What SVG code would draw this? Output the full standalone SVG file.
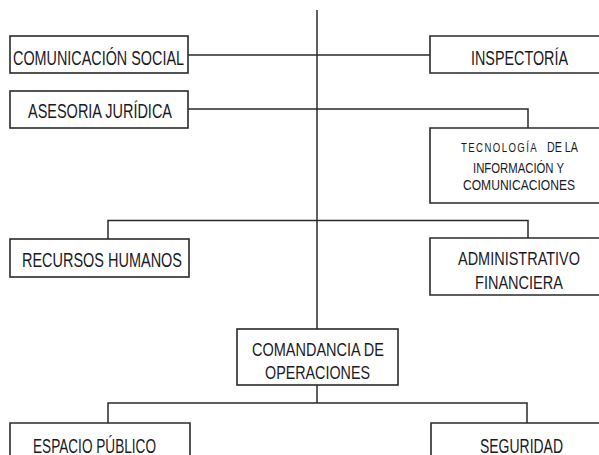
<svg xmlns="http://www.w3.org/2000/svg" width="599" height="455" viewBox="0 0 599 455">
<style>
.box{fill:#fff;stroke:#2a2a2a;stroke-width:1.6}
.ln{fill:none;stroke:#2a2a2a;stroke-width:1.5}
text{font-family:"Liberation Sans",Arial,sans-serif;fill:#1a1a26;font-size:20.5px}
.m{font-size:19px}
.s{font-size:14.5px}
</style>
<rect width="599" height="455" fill="#fff"/>
<g id="connectors">
<path class="ln" d="M317 10V329"/>
<path class="ln" d="M188 55H430"/>
<path class="ln" d="M188 109H528V128"/>
<path class="ln" d="M108 239V220.5H528V238"/>
<path class="ln" d="M317 385V403"/>
<path class="ln" d="M108 423V403H527V423"/>
</g>
<g id="comunicacion-social">
<rect class="box" x="10" y="36" width="178" height="37"/>
<text x="13" y="65" textLength="171" lengthAdjust="spacingAndGlyphs">COMUNICACIÓN SOCIAL</text>
</g>
<g id="asesoria-juridica">
<rect class="box" x="10" y="91" width="178" height="37"/>
<text x="28" y="117.5" textLength="144" lengthAdjust="spacingAndGlyphs">ASESORIA JURÍDICA</text>
</g>
<g id="inspectoria">
<path class="box" d="M605 36H430V73H605"/>
<text x="471" y="65" textLength="97" lengthAdjust="spacingAndGlyphs">INSPECTORÍA</text>
</g>
<g id="tecnologia">
<path class="box" d="M605 128H430V203H605"/>
<text class="s" transform="translate(461 151.5) scale(0.74 1)"><tspan font-size="13" letter-spacing="1.9">TECNOLOGÍA</tspan><tspan dx="12">DE LA</tspan></text>
<text class="s" x="473" y="173" textLength="91" lengthAdjust="spacingAndGlyphs">INFORMACIÓN  Y</text>
<text class="s" x="463" y="189.5" textLength="112" lengthAdjust="spacingAndGlyphs">COMUNICACIONES</text>
</g>
<g id="recursos-humanos">
<rect class="box" x="10" y="239" width="179" height="38"/>
<text x="22" y="266.5" textLength="160" lengthAdjust="spacingAndGlyphs">RECURSOS HUMANOS</text>
</g>
<g id="administrativo-financiera">
<path class="box" d="M605 238H430V295H605"/>
<text class="m" x="458" y="265" textLength="122" lengthAdjust="spacingAndGlyphs">ADMINISTRATIVO</text>
<text class="m" x="475" y="288.5" textLength="88" lengthAdjust="spacingAndGlyphs">FINANCIERA</text>
</g>
<g id="comandancia-operaciones">
<rect class="box" x="237" y="329" width="161" height="56"/>
<text class="m" x="252" y="356" textLength="132" lengthAdjust="spacingAndGlyphs">COMANDANCIA DE</text>
<text class="m" x="265" y="378.5" textLength="105" lengthAdjust="spacingAndGlyphs">OPERACIONES</text>
</g>
<g id="espacio-publico">
<path class="box" d="M10 460V423H190V460"/>
<text x="33" y="452.5" textLength="123" lengthAdjust="spacingAndGlyphs">ESPACIO PÚBLICO</text>
</g>
<g id="seguridad">
<path class="box" d="M431 460V423H605"/>
<text x="480" y="452.5" textLength="83" lengthAdjust="spacingAndGlyphs">SEGURIDAD</text>
</g>
</svg>
